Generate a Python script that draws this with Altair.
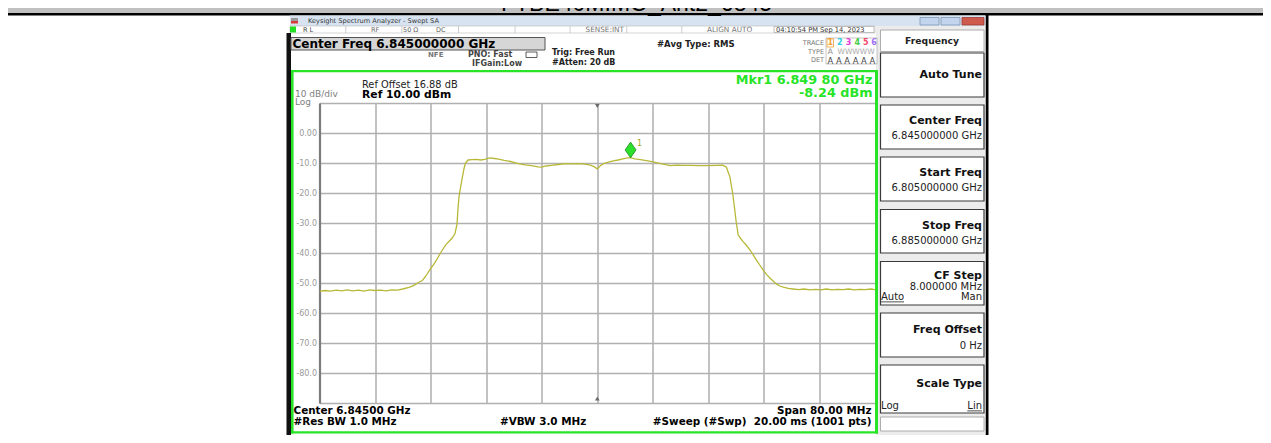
import altair as alt
import pandas as pd

# ---------------- chart values ----------------
freq_mhz = [
    6805.0, 6805.8, 6806.6, 6807.4, 6808.2, 6809.0, 6809.8, 6810.6, 6811.4, 6812.2,
    6813.0, 6813.8, 6814.6, 6815.4, 6816.2, 6817.0, 6818.0, 6818.6, 6819.2, 6819.8,
    6820.2, 6820.5, 6821.0, 6821.4, 6821.9, 6822.3, 6822.7, 6823.2, 6823.7, 6824.1,
    6824.5, 6824.8, 6824.95, 6825.1, 6825.5, 6825.8, 6826.0, 6826.4, 6827.0, 6827.6,
    6828.2, 6828.8, 6829.5, 6830.2, 6830.8, 6831.6, 6832.5, 6833.5, 6834.6, 6835.5,
    6836.5, 6837.0, 6837.6, 6838.4, 6839.4, 6840.4, 6841.4, 6842.3, 6843.2, 6844.0,
    6844.6, 6845.0, 6845.4, 6845.9, 6846.6, 6847.3, 6848.0, 6848.7, 6849.2, 6849.8,
    6850.4, 6851.2, 6852.1, 6853.0, 6854.0, 6855.0, 6855.5, 6856.4, 6857.4, 6858.4,
    6859.6, 6860.8, 6862.2, 6863.1, 6863.6, 6864.1, 6864.5, 6864.8, 6865.0, 6865.3,
    6865.6, 6866.0, 6866.5, 6867.0, 6867.5, 6867.9, 6868.4, 6868.9, 6869.4, 6869.9,
    6870.4, 6870.8, 6871.3, 6871.8, 6872.5, 6873.2, 6874.0, 6874.8, 6875.6, 6876.4,
    6877.2, 6878.0, 6878.8, 6879.6, 6880.4, 6881.2, 6882.0, 6882.8, 6883.6, 6884.4,
    6885.0,
]
level_dbm = [
    -52.8, -52.5, -52.7, -52.4, -52.6, -52.3, -52.6, -52.4, -52.7, -52.3,
    -52.5, -52.4, -52.6, -52.3, -52.4, -52.0, -51.4, -50.8, -49.9, -49.2,
    -48.0, -47.0, -45.2, -44.0, -42.1, -40.5, -39.0, -37.2, -36.0, -35.0,
    -33.6, -30.5, -25.0, -21.0, -15.7, -12.0, -10.1, -9.0, -8.9, -8.8,
    -9.0, -8.8, -8.3, -8.5, -8.7, -9.1, -9.5, -10.1, -10.6, -10.9,
    -11.3, -11.4, -11.0, -10.8, -10.5, -10.2, -10.3, -10.2, -10.4, -10.7,
    -11.3, -12.0, -11.0, -10.2, -9.7, -9.3, -9.0, -8.6, -8.4, -8.24,
    -8.6, -8.9, -9.2, -9.6, -10.1, -10.6, -10.9, -10.7, -10.8, -10.8,
    -10.9, -10.9, -10.8, -10.7, -11.4, -14.6, -20.0, -25.5, -29.5, -34.0,
    -35.0, -36.2, -37.5, -39.0, -40.8, -42.3, -44.0, -45.7, -47.2, -48.4,
    -49.5, -50.3, -51.0, -51.4, -51.8, -52.0, -52.2, -52.0, -52.3, -52.1,
    -52.3, -52.0, -52.3, -52.1, -52.2, -52.0, -52.3, -52.1, -52.2, -52.0,
    -52.2,
]
marker_freq_mhz = [6849.80]
marker_level_dbm = [-8.24]
freq_grid_mhz = [6805, 6813, 6821, 6829, 6837, 6845, 6853, 6861, 6869, 6877, 6885]
level_grid_dbm = [10, 0, -10, -20, -30, -40, -50, -60, -70, -80, -90]
center_freq_mhz = 6845

# ---------------- layout ----------------
FONT = "DejaVu Sans"
GREEN = "#27e427"
X0, Y0, W, H = 319.5, 103.0, 555.5, 300.0      # plot area in page pixels
SVG_W, SVG_H = 1255, 427                          # svg starts at page (8, 8)
PX = alt.Scale(domain=[X0, X0 + W], nice=False, zero=False)
PY = alt.Scale(domain=[Y0, Y0 + H], nice=False, zero=False, reverse=True)
T = "transparent"

rects = [
    # page header band
    (0, 1271, 0, 13, "#c0c0c0", T, 0),
    (0, 1271, 13, 15.5, "#000000", T, 0),
    (985.5, 988.5, 15, 443, "#000000", T, 0),
    # window title bar
    (290, 985.5, 15.5, 26, "#d7e3f1", T, 0),
    (291, 298, 18, 21, "#9a9a9a", T, 0),
    (291, 298, 21, 23.5, "#d83a3a", T, 0),
    (920, 939, 17.5, 25, "#c3d5ec", "#7f98b8", 0.8),
    (941, 960, 17.5, 25, "#c3d5ec", "#7f98b8", 0.8),
    (962, 984, 17.5, 25, "#cf5a4e", "#9a3a30", 0.8),
    # right soft-key panel background
    (876, 985.5, 26, 435, "#ececec", T, 0),
    # status row
    (290, 875, 26, 33, "#ffffff", "#b8b8b8", 0.6),
    (290, 296, 26.5, 32.5, "#22dd22", T, 0),
    (345.5, 346.2, 26, 33, "#b8b8b8", T, 0),
    (401.5, 402.2, 26, 33, "#b8b8b8", T, 0),
    (458, 458.7, 26, 33, "#b8b8b8", T, 0),
    (514.7, 515.4, 26, 33, "#b8b8b8", T, 0),
    (569.7, 570.4, 26, 33, "#b8b8b8", T, 0),
    (626.5, 627.2, 26, 33, "#b8b8b8", T, 0),
    (681.5, 682.2, 26, 33, "#b8b8b8", T, 0),
    (774, 874, 26.5, 32.5, "#ffffff", "#999999", 0.6),
    # black bezel strip left of display
    (286.5, 291, 33, 435, "#111111", T, 0),
    # center freq box
    (291, 545, 37.5, 50, "#d6d6d6", "#555555", 1),
    (526, 537, 52, 57.5, "#ffffff", "#333333", 0.8),
    # trace / type / det box
    (826, 877, 38, 64, "#ffffff", "#a0a0a0", 0.6),
    (827, 833.5, 38.8, 47, T, "#f0a030", 0.8),
    # green display border
    (291, 878, 70, 72.2, GREEN, T, 0),
    (291, 293.6, 70, 433.5, GREEN, T, 0),
    (875, 878, 70, 433.5, GREEN, T, 0),
    (291, 878, 431.3, 433.5, GREEN, T, 0),
    # soft keys
    (880.5, 984, 30, 51.5, "#ffffff", "#9a9a9a", 0.8),
    (880.5, 984, 53, 97, "#ffffff", "#3a3a3a", 1.2),
    (880.5, 984, 105, 149, "#ffffff", "#3a3a3a", 1.2),
    (880.5, 984, 157, 201, "#ffffff", "#3a3a3a", 1.2),
    (880.5, 984, 209.5, 253, "#ffffff", "#3a3a3a", 1.2),
    (880.5, 984, 261.5, 305, "#ffffff", "#3a3a3a", 1.2),
    (880.5, 984, 313, 357, "#ffffff", "#3a3a3a", 1.2),
    (880.5, 984, 365, 413, "#ffffff", "#3a3a3a", 1.2),
    (880.5, 984, 417, 431, "#ffffff", "#9a9a9a", 0.8),
    (881, 904, 301.5, 302.3, "#222222", T, 0),
    (967.3, 982, 410.5, 411.3, "#222222", T, 0),
]

# (text, x, y, size, color, align, weight)
texts = [
    ("Keysight Spectrum Analyzer - Swept SA", 308, 21, 6.6, "#333333", "left", "normal"),
    ("R L", 303, 29.6, 6.5, "#444444", "left", "normal"),
    ("RF", 371, 29.6, 6.5, "#666666", "left", "normal"),
    ("50 \u03a9", 403, 29.6, 6.5, "#666666", "left", "normal"),
    ("DC", 436, 29.6, 6.5, "#666666", "left", "normal"),
    ("SENSE:INT", 624, 29.6, 7.3, "#777777", "right", "normal"),
    ("ALIGN AUTO", 707, 29.6, 7.3, "#777777", "left", "normal"),
    ("04:10:54 PM Sep 14, 2023", 776, 29.6, 6.7, "#333333", "left", "normal"),
    ("Center Freq 6.845000000 GHz", 292.5, 44, 12, "#000000", "left", "bold"),
    ("NFE", 428, 54.8, 7, "#777777", "left", "bold"),
    ("PNO: Fast", 468, 54.8, 8, "#444444", "left", "bold"),
    ("IFGain:Low", 472, 63.8, 8, "#444444", "left", "bold"),
    ("Trig: Free Run", 552, 53.2, 8, "#222222", "left", "bold"),
    ("#Atten: 20 dB", 552, 63, 8, "#222222", "left", "bold"),
    ("#Avg Type: RMS", 657, 43.5, 8.5, "#222222", "left", "bold"),
    ("TRACE", 824, 42.5, 6.5, "#777777", "right", "normal"),
    ("TYPE", 824, 51.5, 6.5, "#777777", "right", "normal"),
    ("DET", 824, 60, 6.5, "#777777", "right", "normal"),
    ("1", 830.3, 43, 8, "#f0a030", "center", "bold"),
    ("2", 839.8, 43, 8, "#2ccfe0", "center", "bold"),
    ("3", 848.5, 43, 8, "#e040d8", "center", "bold"),
    ("4", 857.3, 43, 8, "#44cc44", "center", "bold"),
    ("5", 865.8, 43, 8, "#f04a6a", "center", "bold"),
    ("6", 874, 43, 8, "#a070f0", "center", "bold"),
    ("A", 830.3, 51.8, 7.5, "#888888", "center", "normal"),
    ("WWWWW", 837.5, 51.8, 7.5, "#aaaaaa", "left", "normal"),
    ("A A A A A A", 827.5, 60.5, 8.4, "#444444", "left", "normal"),
    ("Ref Offset 16.88 dB", 362, 85, 9.8, "#222222", "left", "normal"),
    ("Ref 10.00 dBm", 362, 94.5, 10.8, "#000000", "left", "bold"),
    ("10 dB/div", 295, 94.3, 9, "#808080", "left", "normal"),
    ("Log", 295, 102.3, 9, "#808080", "left", "normal"),
    ("Mkr1 6.849 80 GHz", 872.5, 79.5, 12.8, GREEN, "right", "bold"),
    ("-8.24 dBm", 872.5, 93, 12.8, GREEN, "right", "bold"),
    ("Center 6.84500 GHz", 293.5, 411, 10.4, "#000000", "left", "bold"),
    ("#Res BW 1.0 MHz", 293.5, 422, 10.4, "#000000", "left", "bold"),
    ("#VBW 3.0 MHz", 500, 422, 10.4, "#000000", "left", "bold"),
    ("Span 80.00 MHz", 871.5, 410.5, 10.4, "#000000", "right", "bold"),
    ("#Sweep (#Swp) \u00a020.00 ms (1001 pts)", 871.5, 422, 10.4, "#000000", "right", "bold"),
    ("Frequency", 932, 40.5, 9.2, "#222222", "center", "bold"),
    ("Auto Tune", 982, 75, 11, "#111111", "right", "bold"),
    ("Center Freq", 982, 121, 11, "#111111", "right", "bold"),
    ("6.845000000 GHz", 982, 136, 10, "#222222", "right", "normal"),
    ("Start Freq", 982, 173, 11, "#111111", "right", "bold"),
    ("6.805000000 GHz", 982, 188, 10, "#222222", "right", "normal"),
    ("Stop Freq", 982, 226, 11, "#111111", "right", "bold"),
    ("6.885000000 GHz", 982, 241, 10, "#222222", "right", "normal"),
    ("CF Step", 982, 276, 11, "#111111", "right", "bold"),
    ("8.000000 MHz", 982, 287, 10, "#222222", "right", "normal"),
    ("Auto", 881, 297, 10, "#222222", "left", "normal"),
    ("Man", 982, 297, 10, "#222222", "right", "normal"),
    ("Freq Offset", 982, 330, 11, "#111111", "right", "bold"),
    ("0 Hz", 982, 346, 10, "#222222", "right", "normal"),
    ("Scale Type", 982, 384, 11, "#111111", "right", "bold"),
    ("Log", 881, 406, 10, "#222222", "left", "normal"),
    ("Lin", 982, 406, 10, "#222222", "right", "normal"),
]


def rect_layer(rows):
    df = pd.DataFrame(rows, columns=["x1", "x2", "y1", "y2", "fill", "stroke", "sw"])
    return alt.Chart(df).mark_rect().encode(
        x=alt.X("x1:Q", scale=PX, axis=None),
        x2="x2:Q",
        y=alt.Y("y1:Q", scale=PY, axis=None),
        y2="y2:Q",
        fill=alt.Fill("fill:N", scale=None),
        stroke=alt.Stroke("stroke:N", scale=None),
        strokeWidth=alt.StrokeWidth("sw:Q", scale=None),
    )


def text_layers(rows, font=FONT, baseline="middle"):
    layers = []
    groups = {}
    for r in rows:
        groups.setdefault((r[5], r[6]), []).append(r[:5])
    for (align, weight), items in groups.items():
        df = pd.DataFrame(items, columns=["t", "x", "y", "s", "c"])
        layers.append(
            alt.Chart(df).mark_text(align=align, baseline=baseline, font=font, fontWeight=weight).encode(
                x=alt.X("x:Q", scale=PX, axis=None),
                y=alt.Y("y:Q", scale=PY, axis=None),
                text="t:N",
                size=alt.Size("s:Q", scale=None),
                color=alt.Color("c:N", scale=None),
            )
        )
    return layers


title_layer = text_layers(
    [("FTBE40MIMO_Ant2_6845", 636.5, 11, 23, "#000000", "center", "normal")],
    font="Liberation Sans", baseline="alphabetic",
)

decor_back = alt.layer(rect_layer(rects), *title_layer, *text_layers(texts))

# ---------------- the spectrum plot ----------------
trace_df = pd.DataFrame({"freq": freq_mhz, "level": level_dbm})
marker_df = pd.DataFrame({"freq": marker_freq_mhz, "level": marker_level_dbm})

xs = alt.Scale(domain=[freq_grid_mhz[0], freq_grid_mhz[-1]], nice=False, zero=False)
ys = alt.Scale(domain=[level_grid_dbm[-1], level_grid_dbm[0]], nice=False, zero=False)
enc_x = alt.X(
    "freq:Q", scale=xs, title=None,
    axis=alt.Axis(orient="bottom", values=freq_grid_mhz, labels=False, ticks=False, domain=False,
                  grid=True, gridColor="#a8a8a8", gridWidth=1.4, title=None),
)
enc_y = alt.Y(
    "level:Q", scale=ys, title=None,
    axis=alt.Axis(orient="left", values=level_grid_dbm, ticks=False, domain=True,
                  domainColor="#7c7c7c", domainWidth=2.2, grid=True, gridColor="#b0b0b0",
                  gridWidth=1.4, labelFont=FONT, labelFontSize=8, labelColor="#9a9a9a",
                  labelPadding=3, labelOverlap=False, title=None,
                  labelExpr="datum.value == 0 ? '0.00' : ((datum.value > 5 || datum.value < -85) ? '' : datum.value + '.0')"),
)

trace = alt.Chart(trace_df).mark_line(color="#b8b838", strokeWidth=1.3, clip=True).encode(x=enc_x, y=enc_y)
marker = alt.Chart(marker_df).mark_point(
    shape="M0,0L0.7,-1L0,-2L-0.7,-1Z", filled=True, fill="#2ee02e", stroke="#138a13",
    strokeWidth=0.8, size=243, opacity=1,
).encode(x=enc_x, y=enc_y)
marker_label = alt.Chart(marker_df).mark_text(
    text="1", dx=9, dy=-14, fontSize=8, font=FONT, color="#a6a61e"
).encode(x=enc_x, y=enc_y)

plot = alt.layer(trace, marker, marker_label)

tri_df = pd.DataFrame({
    "x": [597.3, 597.3],
    "y": [106.0, 398.5],
    "shape": ["triangle-down", "triangle-up"],
})
triangles = alt.Chart(tri_df).mark_point(filled=True, color="#6a6a6a", size=22, opacity=1).encode(
    x=alt.X("x:Q", scale=PX, axis=None),
    y=alt.Y("y:Q", scale=PY, axis=None),
    shape=alt.Shape("shape:N", scale=None),
)

chart = (
    alt.layer(decor_back, plot, triangles)
    .resolve_scale(x="independent", y="independent")
    .properties(
        width=W,
        height=H,
        padding={"left": X0 - 8, "top": Y0 - 8, "right": SVG_W - (X0 - 8) - W, "bottom": SVG_H - (Y0 - 8) - H},
        autosize=alt.AutoSizeParams(type="none"),
        background="#ffffff",
    )
    .configure_view(stroke=None, fill=None)
)

chart.save("out.html", embed_options={"renderer": "svg", "actions": False})
